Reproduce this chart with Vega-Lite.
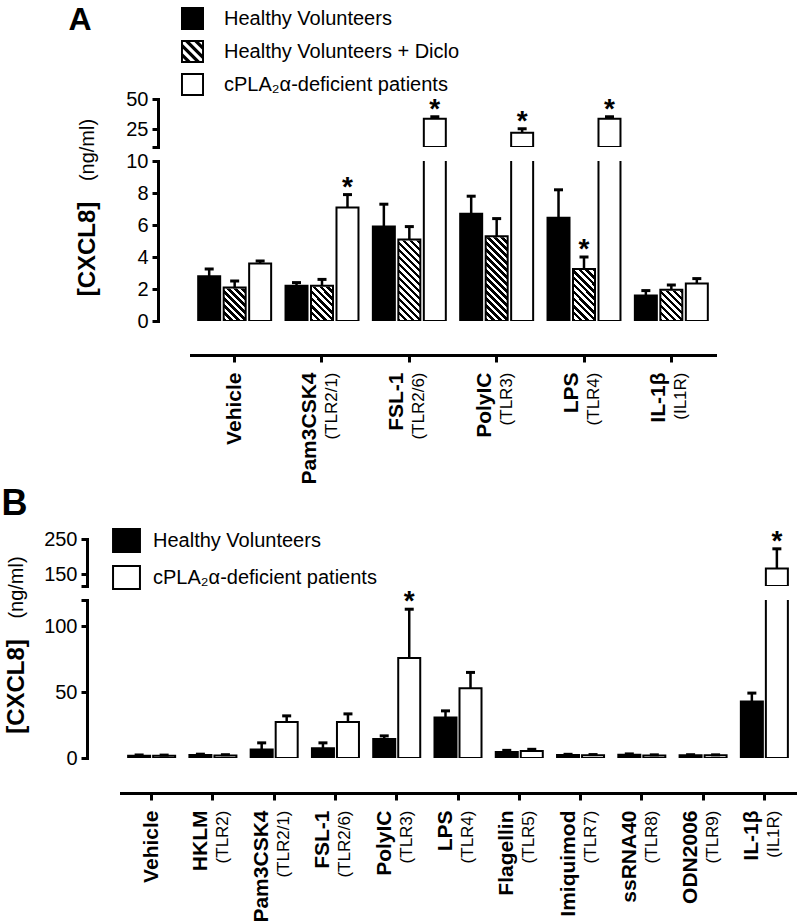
{
 "$schema": "https://vega.github.io/schema/vega-lite/v6.json",
 "autosize": {"type": "pad"},
 "padding": {"left": 1, "top": 3, "right": 2, "bottom": 2},
 "background": "white",
 "bounds": "flush",
 "spacing": 14,
 "config": {
  "font": "Liberation Sans",
  "view": {"stroke": null},
  "axis": {"domainColor": "black", "domainWidth": 3, "domainCap": "square", "tickColor": "black", "tickWidth": 3, "tickSize": 6, "labelColor": "black", "titleColor": "black", "labelFont": "Liberation Sans", "titleFont": "Liberation Sans", "grid": false, "labelFontSize": 20, "labelPadding": 4, "labelOverlap": false, "labelBound": false},
  "legend": {"labelFont": "Liberation Sans", "labelColor": "black"}
 },
 "datasets": {
  "A": [
   {"stim": "Vehicle", "group": "Healthy Volunteers", "value": 2.8, "err": 3.25, "sig": ""},
   {"stim": "Vehicle", "group": "Healthy Volunteers + Diclo", "value": 2.1, "err": 2.5, "sig": ""},
   {"stim": "Vehicle", "group": "cPLA₂α-deficient patients", "value": 3.6, "err": 3.75, "sig": ""},
   {"stim": "Pam3CSK4 (TLR2/1)", "group": "Healthy Volunteers", "value": 2.2, "err": 2.4, "sig": ""},
   {"stim": "Pam3CSK4 (TLR2/1)", "group": "Healthy Volunteers + Diclo", "value": 2.2, "err": 2.6, "sig": ""},
   {"stim": "Pam3CSK4 (TLR2/1)", "group": "cPLA₂α-deficient patients", "value": 7.1, "err": 7.9, "sig": "*"},
   {"stim": "FSL-1 (TLR2/6)", "group": "Healthy Volunteers", "value": 5.9, "err": 7.3, "sig": ""},
   {"stim": "FSL-1 (TLR2/6)", "group": "Healthy Volunteers + Diclo", "value": 5.1, "err": 5.9, "sig": ""},
   {"stim": "FSL-1 (TLR2/6)", "group": "cPLA₂α-deficient patients", "value": 33.6, "err": 35.2, "sig": "*"},
   {"stim": "PolyIC (TLR3)", "group": "Healthy Volunteers", "value": 6.7, "err": 7.8, "sig": ""},
   {"stim": "PolyIC (TLR3)", "group": "Healthy Volunteers + Diclo", "value": 5.3, "err": 6.4, "sig": ""},
   {"stim": "PolyIC (TLR3)", "group": "cPLA₂α-deficient patients", "value": 21.9, "err": 25.2, "sig": "*"},
   {"stim": "LPS (TLR4)", "group": "Healthy Volunteers", "value": 6.45, "err": 8.2, "sig": ""},
   {"stim": "LPS (TLR4)", "group": "Healthy Volunteers + Diclo", "value": 3.25, "err": 4.0, "sig": "*"},
   {"stim": "LPS (TLR4)", "group": "cPLA₂α-deficient patients", "value": 33.6, "err": 35.2, "sig": "*"},
   {"stim": "IL-1β (IL1R)", "group": "Healthy Volunteers", "value": 1.6, "err": 1.9, "sig": ""},
   {"stim": "IL-1β (IL1R)", "group": "Healthy Volunteers + Diclo", "value": 1.95, "err": 2.25, "sig": ""},
   {"stim": "IL-1β (IL1R)", "group": "cPLA₂α-deficient patients", "value": 2.35, "err": 2.65, "sig": ""}
  ],
  "B": [
   {"stim": "Vehicle", "group": "Healthy Volunteers", "value": 1.8, "err": 2.3, "sig": ""},
   {"stim": "Vehicle", "group": "cPLA₂α-deficient patients", "value": 1.8, "err": 2.2, "sig": ""},
   {"stim": "HKLM (TLR2)", "group": "Healthy Volunteers", "value": 2.2, "err": 2.9, "sig": ""},
   {"stim": "HKLM (TLR2)", "group": "cPLA₂α-deficient patients", "value": 1.9, "err": 2.5, "sig": ""},
   {"stim": "Pam3CSK4 (TLR2/1)", "group": "Healthy Volunteers", "value": 6.5, "err": 11.5, "sig": ""},
   {"stim": "Pam3CSK4 (TLR2/1)", "group": "cPLA₂α-deficient patients", "value": 27.4, "err": 32, "sig": ""},
   {"stim": "FSL-1 (TLR2/6)", "group": "Healthy Volunteers", "value": 7.5, "err": 11.5, "sig": ""},
   {"stim": "FSL-1 (TLR2/6)", "group": "cPLA₂α-deficient patients", "value": 27.4, "err": 33.5, "sig": ""},
   {"stim": "PolyIC (TLR3)", "group": "Healthy Volunteers", "value": 14.5, "err": 16.8, "sig": ""},
   {"stim": "PolyIC (TLR3)", "group": "cPLA₂α-deficient patients", "value": 75.9, "err": 113, "sig": "*"},
   {"stim": "LPS (TLR4)", "group": "Healthy Volunteers", "value": 30.7, "err": 35.8, "sig": ""},
   {"stim": "LPS (TLR4)", "group": "cPLA₂α-deficient patients", "value": 53, "err": 65, "sig": ""},
   {"stim": "Flagellin (TLR5)", "group": "Healthy Volunteers", "value": 4.5, "err": 5.8, "sig": ""},
   {"stim": "Flagellin (TLR5)", "group": "cPLA₂α-deficient patients", "value": 5.3, "err": 6.6, "sig": ""},
   {"stim": "Imiquimod (TLR7)", "group": "Healthy Volunteers", "value": 2.3, "err": 2.8, "sig": ""},
   {"stim": "Imiquimod (TLR7)", "group": "cPLA₂α-deficient patients", "value": 2.0, "err": 2.6, "sig": ""},
   {"stim": "ssRNA40 (TLR8)", "group": "Healthy Volunteers", "value": 2.5, "err": 3.1, "sig": ""},
   {"stim": "ssRNA40 (TLR8)", "group": "cPLA₂α-deficient patients", "value": 1.9, "err": 2.4, "sig": ""},
   {"stim": "ODN2006 (TLR9)", "group": "Healthy Volunteers", "value": 2.0, "err": 2.5, "sig": ""},
   {"stim": "ODN2006 (TLR9)", "group": "cPLA₂α-deficient patients", "value": 2.0, "err": 2.4, "sig": ""},
   {"stim": "IL-1β (IL1R)", "group": "Healthy Volunteers", "value": 42.9, "err": 49.3, "sig": ""},
   {"stim": "IL-1β (IL1R)", "group": "cPLA₂α-deficient patients", "value": 166, "err": 222, "sig": "*"}
  ]
 },
 "resolve": {"scale": {"x": "independent", "y": "independent", "xOffset": "independent", "fill": "independent", "shape": "independent"}, "legend": {"fill": "independent", "shape": "independent"}},
 "vconcat": [
  {
   "width": 594, "height": 48,
   "data": {"name": "A"},
   "resolve": {"axis": {"y": "independent"}},
   "layer": [
    {
     "transform": [{"filter": "datum.value > 10"}],
     "mark": {"type": "bar", "clip": true, "stroke": "black", "strokeWidth": 2},
     "encoding": {
      "x": {"field": "stim", "type": "nominal", "scale": {"domain": ["Vehicle", "Pam3CSK4 (TLR2/1)", "FSL-1 (TLR2/6)", "PolyIC (TLR3)", "LPS (TLR4)", "IL-1β (IL1R)"], "range": [70, 594], "paddingInner": 0, "paddingOuter": 0},
            "axis": {"orient": "top", "domain": false, "ticks": false, "labels": false, "title": "A", "titleX": -53, "titleY": -70, "titleAlign": "left", "titleBaseline": "alphabetic", "titleAngle": 0, "titleFontSize": 32, "titleFontWeight": "bold"}},
      "xOffset": {"field": "group", "type": "nominal", "scale": {"domain": ["Healthy Volunteers", "Healthy Volunteers + Diclo", "cPLA₂α-deficient patients"], "paddingInner": 0.137, "paddingOuter": 0.282}},
      "y": {"field": "value", "type": "quantitative", "stack": null, "scale": {"domain": [10, 50], "zero": false, "nice": false},
            "axis": {"orient": "left", "offset": -37, "values": [10, 50], "labelOverlap": false, "labelFlush": false, "labelExpr": "datum.value == 10 ? '' : datum.label", "title": "(ng/ml)", "titleX": -71, "titleY": 50.5, "titleAngle": 270, "titleAlign": "center", "titleBaseline": "middle", "titleFontSize": 20, "titleFontWeight": "normal"}},
      "fill": {"condition": {"test": "datum.group == 'Healthy Volunteers'", "value": "black"}, "value": "white"}
     }
    },
    {
     "transform": [{"filter": "datum.err > 10"}],
     "mark": {"type": "rule", "clip": true, "strokeWidth": 2.5, "color": "black"},
     "encoding": {
      "x": {"field": "stim", "type": "nominal", "scale": {"domain": ["Vehicle", "Pam3CSK4 (TLR2/1)", "FSL-1 (TLR2/6)", "PolyIC (TLR3)", "LPS (TLR4)", "IL-1β (IL1R)"], "range": [70, 594], "paddingInner": 0, "paddingOuter": 0}},
      "xOffset": {"field": "group", "type": "nominal", "scale": {"domain": ["Healthy Volunteers", "Healthy Volunteers + Diclo", "cPLA₂α-deficient patients"], "paddingInner": 0.137, "paddingOuter": 0.282}},
      "y": {"field": "value", "type": "quantitative", "scale": {"domain": [10, 50], "zero": false, "nice": false},
            "axis": {"orient": "left", "offset": -37, "values": [25], "domain": false, "title": null, "labelOverlap": false, "labelFlush": false}},
      "y2": {"field": "err"}
     }
    },
    {
     "transform": [{"filter": "datum.err > 10"}],
     "mark": {"type": "tick", "clip": true, "orient": "horizontal", "size": 9, "thickness": 3, "color": "black", "opacity": 1},
     "encoding": {
      "x": {"field": "stim", "type": "nominal", "scale": {"domain": ["Vehicle", "Pam3CSK4 (TLR2/1)", "FSL-1 (TLR2/6)", "PolyIC (TLR3)", "LPS (TLR4)", "IL-1β (IL1R)"], "range": [70, 594], "paddingInner": 0, "paddingOuter": 0}},
      "xOffset": {"field": "group", "type": "nominal", "scale": {"domain": ["Healthy Volunteers", "Healthy Volunteers + Diclo", "cPLA₂α-deficient patients"], "paddingInner": 0.137, "paddingOuter": 0.282}},
      "y": {"field": "err", "type": "quantitative", "scale": {"domain": [10, 50], "zero": false, "nice": false}, "axis": null}
     }
    },
    {
     "transform": [{"filter": "datum.sig == '*' && datum.err > 10"}],
     "mark": {"type": "text", "text": "*", "fontSize": 28, "fontWeight": "bold", "baseline": "alphabetic", "align": "center", "dy": 1, "color": "black", "opacity": 1},
     "encoding": {
      "x": {"field": "stim", "type": "nominal", "scale": {"domain": ["Vehicle", "Pam3CSK4 (TLR2/1)", "FSL-1 (TLR2/6)", "PolyIC (TLR3)", "LPS (TLR4)", "IL-1β (IL1R)"], "range": [70, 594], "paddingInner": 0, "paddingOuter": 0}},
      "xOffset": {"field": "group", "type": "nominal", "scale": {"domain": ["Healthy Volunteers", "Healthy Volunteers + Diclo", "cPLA₂α-deficient patients"], "paddingInner": 0.137, "paddingOuter": 0.282}},
      "y": {"field": "err", "type": "quantitative", "scale": {"domain": [10, 50], "zero": false, "nice": false}, "axis": null}
     }
    },
    {
     "transform": [{"filter": "datum.value < 3"}],
     "mark": {"type": "point", "filled": true, "clip": true, "color": "black", "size": 4, "opacity": 1},
     "encoding": {
      "x": {"field": "stim", "type": "nominal", "scale": {"domain": ["Vehicle", "Pam3CSK4 (TLR2/1)", "FSL-1 (TLR2/6)", "PolyIC (TLR3)", "LPS (TLR4)", "IL-1β (IL1R)"], "range": [70, 594], "paddingInner": 0, "paddingOuter": 0}},
      "xOffset": {"field": "group", "type": "nominal", "scale": {"domain": ["Healthy Volunteers", "Healthy Volunteers + Diclo", "cPLA₂α-deficient patients"], "paddingInner": 0.137, "paddingOuter": 0.282}},
      "y": {"field": "value", "type": "quantitative", "scale": {"domain": [10, 50], "zero": false, "nice": false}, "axis": null},
      "shape": {"field": "group", "type": "nominal",
                "scale": {"domain": ["Healthy Volunteers", "Healthy Volunteers + Diclo", "cPLA₂α-deficient patients"],
                          "range": ["M-1,-1H1V1H-1Z",
                                    "M-1,-1H1V1H-1Z M-0.83,-0.83V0.83H0.83V-0.83Z M0.17,-0.83L0.57,-0.83L0.83,-0.57L0.83,-0.17Z M-0.63,-0.83L-0.23,-0.83L0.83,0.23L0.83,0.63Z M-0.83,-0.63L0.63,0.83L0.23,0.83L-0.83,-0.23Z M-0.83,0.17L-0.17,0.83L-0.57,0.83L-0.83,0.57Z",
                                    "M-1,-1H1V1H-1Z M-0.83,-0.83V0.83H0.83V-0.83Z"]},
                "legend": {"orient": "none", "legendX": 60, "legendY": -92, "title": null, "symbolSize": 529, "symbolFillColor": "black", "symbolStrokeWidth": 0, "symbolOpacity": 1, "labelFontSize": 20, "labelLimit": 600, "labelOffset": 20, "rowPadding": 10, "padding": 0}}
     }
    }
   ]
  },
  {
   "width": 594, "height": 160,
   "data": {"name": "A"},
   "resolve": {"axis": {"x": "independent", "y": "independent"}},
   "layer": [
    {
     "transform": [{"filter": "datum.group == 'Healthy Volunteers + Diclo'"}],
     "mark": {"type": "bar", "clip": true, "strokeWidth": 0,
              "fill": {"gradient": "linear", "x1": 0, "y1": 7.2727, "x2": 1, "y2": 0, "stops": [{"offset":0.8465,"color":"#000"},{"offset":0.84945,"color":"#000"},{"offset":0.84945,"color":"#fff"},{"offset":0.8524,"color":"#fff"},{"offset":0.8524,"color":"#000"},{"offset":0.85535,"color":"#000"},{"offset":0.85535,"color":"#fff"},{"offset":0.8583,"color":"#fff"},{"offset":0.8583,"color":"#000"},{"offset":0.86126,"color":"#000"},{"offset":0.86126,"color":"#fff"},{"offset":0.86421,"color":"#fff"},{"offset":0.86421,"color":"#000"},{"offset":0.86716,"color":"#000"},{"offset":0.86716,"color":"#fff"},{"offset":0.87011,"color":"#fff"},{"offset":0.87011,"color":"#000"},{"offset":0.87306,"color":"#000"},{"offset":0.87306,"color":"#fff"},{"offset":0.87602,"color":"#fff"},{"offset":0.87602,"color":"#000"},{"offset":0.87897,"color":"#000"},{"offset":0.87897,"color":"#fff"},{"offset":0.88192,"color":"#fff"},{"offset":0.88192,"color":"#000"},{"offset":0.88487,"color":"#000"},{"offset":0.88487,"color":"#fff"},{"offset":0.88782,"color":"#fff"},{"offset":0.88782,"color":"#000"},{"offset":0.89078,"color":"#000"},{"offset":0.89078,"color":"#fff"},{"offset":0.89373,"color":"#fff"},{"offset":0.89373,"color":"#000"},{"offset":0.89668,"color":"#000"},{"offset":0.89668,"color":"#fff"},{"offset":0.89963,"color":"#fff"},{"offset":0.89963,"color":"#000"},{"offset":0.90258,"color":"#000"},{"offset":0.90258,"color":"#fff"},{"offset":0.90554,"color":"#fff"},{"offset":0.90554,"color":"#000"},{"offset":0.90849,"color":"#000"},{"offset":0.90849,"color":"#fff"},{"offset":0.91144,"color":"#fff"},{"offset":0.91144,"color":"#000"},{"offset":0.91439,"color":"#000"},{"offset":0.91439,"color":"#fff"},{"offset":0.91734,"color":"#fff"},{"offset":0.91734,"color":"#000"},{"offset":0.9203,"color":"#000"},{"offset":0.9203,"color":"#fff"},{"offset":0.92325,"color":"#fff"},{"offset":0.92325,"color":"#000"},{"offset":0.9262,"color":"#000"},{"offset":0.9262,"color":"#fff"},{"offset":0.92915,"color":"#fff"},{"offset":0.92915,"color":"#000"},{"offset":0.9321,"color":"#000"},{"offset":0.9321,"color":"#fff"},{"offset":0.93506,"color":"#fff"},{"offset":0.93506,"color":"#000"},{"offset":0.93801,"color":"#000"},{"offset":0.93801,"color":"#fff"},{"offset":0.94096,"color":"#fff"},{"offset":0.94096,"color":"#000"},{"offset":0.94391,"color":"#000"},{"offset":0.94391,"color":"#fff"},{"offset":0.94686,"color":"#fff"},{"offset":0.94686,"color":"#000"},{"offset":0.94982,"color":"#000"},{"offset":0.94982,"color":"#fff"},{"offset":0.95277,"color":"#fff"},{"offset":0.95277,"color":"#000"},{"offset":0.95572,"color":"#000"},{"offset":0.95572,"color":"#fff"},{"offset":0.95867,"color":"#fff"},{"offset":0.95867,"color":"#000"},{"offset":0.96162,"color":"#000"},{"offset":0.96162,"color":"#fff"},{"offset":0.96458,"color":"#fff"},{"offset":0.96458,"color":"#000"},{"offset":0.96753,"color":"#000"},{"offset":0.96753,"color":"#fff"},{"offset":0.97048,"color":"#fff"},{"offset":0.97048,"color":"#000"},{"offset":0.97343,"color":"#000"},{"offset":0.97343,"color":"#fff"},{"offset":0.97638,"color":"#fff"},{"offset":0.97638,"color":"#000"},{"offset":0.97934,"color":"#000"},{"offset":0.97934,"color":"#fff"},{"offset":0.98229,"color":"#fff"},{"offset":0.98229,"color":"#000"},{"offset":0.98524,"color":"#000"},{"offset":0.98524,"color":"#fff"},{"offset":0.98819,"color":"#fff"},{"offset":0.98819,"color":"#000"},{"offset":0.99114,"color":"#000"},{"offset":0.99114,"color":"#fff"},{"offset":0.9941,"color":"#fff"},{"offset":0.9941,"color":"#000"},{"offset":0.99705,"color":"#000"},{"offset":0.99705,"color":"#fff"},{"offset":1,"color":"#fff"}]}},
     "encoding": {
      "x": {"field": "stim", "type": "nominal", "scale": {"domain": ["Vehicle", "Pam3CSK4 (TLR2/1)", "FSL-1 (TLR2/6)", "PolyIC (TLR3)", "LPS (TLR4)", "IL-1β (IL1R)"], "range": [70, 594], "paddingInner": 0, "paddingOuter": 0}, "axis": null},
      "xOffset": {"field": "group", "type": "nominal", "scale": {"domain": ["Healthy Volunteers", "Healthy Volunteers + Diclo", "cPLA₂α-deficient patients"], "paddingInner": 0.137, "paddingOuter": 0.282}},
      "y": {"datum": 10, "type": "quantitative", "scale": {"domain": [0, 10], "nice": false}, "axis": null},
      "y2": {"datum": 0}
     }
    },
    {
     "transform": [{"filter": "datum.group == 'Healthy Volunteers + Diclo'"}],
     "mark": {"type": "bar", "clip": true, "fill": "white", "stroke": "white", "strokeWidth": 2},
     "encoding": {
      "x": {"field": "stim", "type": "nominal", "scale": {"domain": ["Vehicle", "Pam3CSK4 (TLR2/1)", "FSL-1 (TLR2/6)", "PolyIC (TLR3)", "LPS (TLR4)", "IL-1β (IL1R)"], "range": [70, 594], "paddingInner": 0, "paddingOuter": 0}, "axis": null},
      "xOffset": {"field": "group", "type": "nominal", "scale": {"domain": ["Healthy Volunteers", "Healthy Volunteers + Diclo", "cPLA₂α-deficient patients"], "paddingInner": 0.137, "paddingOuter": 0.282}},
      "y": {"field": "value", "type": "quantitative", "stack": null, "scale": {"domain": [0, 10], "nice": false}, "axis": null},
      "y2": {"datum": 10}
     }
    },
    {
     "mark": {"type": "bar", "clip": true, "stroke": "black", "strokeWidth": 2},
     "encoding": {
      "x": {"field": "stim", "type": "nominal", "scale": {"domain": ["Vehicle", "Pam3CSK4 (TLR2/1)", "FSL-1 (TLR2/6)", "PolyIC (TLR3)", "LPS (TLR4)", "IL-1β (IL1R)"], "range": [70, 594], "paddingInner": 0, "paddingOuter": 0},
            "axis": {"orient": "bottom", "offset": 34, "title": null, "labelAngle": 270, "labelFontSize": 21, "labelFontWeight": "bold", "labelPadding": 10, "tickSize": 7, "tickWidth": 3, "labelExpr": "split(datum.value, ' (')[0]", "labelOffset": {"condition": {"test": "indexof(datum.value, '(') < 0", "value": 0}, "value": -12}}},
      "xOffset": {"field": "group", "type": "nominal", "scale": {"domain": ["Healthy Volunteers", "Healthy Volunteers + Diclo", "cPLA₂α-deficient patients"], "paddingInner": 0.137, "paddingOuter": 0.282}},
      "y": {"field": "value", "type": "quantitative", "stack": null, "scale": {"domain": [0, 10], "nice": false},
            "axis": {"orient": "left", "offset": -37, "values": [0, 4, 8], "labelOverlap": false, "labelFlush": false, "title": "[CXCL8]", "titleX": -71, "titleY": 87.5, "titleAngle": 270, "titleAlign": "center", "titleBaseline": "middle", "titleFontSize": 24, "titleFontWeight": "bold"}},
      "fill": {"condition": [{"test": "datum.group == 'Healthy Volunteers'", "value": "black"}, {"test": "datum.group == 'Healthy Volunteers + Diclo'", "value": "transparent"}], "value": "white"}
     }
    },
    {
     "mark": {"type": "rule", "clip": true, "strokeWidth": 2.5, "color": "black"},
     "encoding": {
      "x": {"field": "stim", "type": "nominal", "scale": {"domain": ["Vehicle", "Pam3CSK4 (TLR2/1)", "FSL-1 (TLR2/6)", "PolyIC (TLR3)", "LPS (TLR4)", "IL-1β (IL1R)"], "range": [70, 594], "paddingInner": 0, "paddingOuter": 0},
            "axis": {"orient": "bottom", "offset": 34, "title": null, "domain": false, "tickSize": 7, "tickOpacity": 0, "labelAngle": 270, "labelFontSize": 17, "labelFontWeight": "normal", "labelPadding": 10, "labelOffset": 10, "labelExpr": "indexof(datum.value, '(') < 0 ? '' : '(' + split(datum.value, ' (')[1]"}},
      "xOffset": {"field": "group", "type": "nominal", "scale": {"domain": ["Healthy Volunteers", "Healthy Volunteers + Diclo", "cPLA₂α-deficient patients"], "paddingInner": 0.137, "paddingOuter": 0.282}},
      "y": {"field": "value", "type": "quantitative", "scale": {"domain": [0, 10], "nice": false},
            "axis": {"orient": "left", "offset": -37, "values": [2, 6, 10], "domain": false, "title": null, "labelOverlap": false, "labelFlush": false}},
      "y2": {"field": "err"}
     }
    },
    {
     "mark": {"type": "tick", "clip": true, "orient": "horizontal", "size": 9, "thickness": 3, "color": "black", "opacity": 1},
     "encoding": {
      "x": {"field": "stim", "type": "nominal", "scale": {"domain": ["Vehicle", "Pam3CSK4 (TLR2/1)", "FSL-1 (TLR2/6)", "PolyIC (TLR3)", "LPS (TLR4)", "IL-1β (IL1R)"], "range": [70, 594], "paddingInner": 0, "paddingOuter": 0}, "axis": null},
      "xOffset": {"field": "group", "type": "nominal", "scale": {"domain": ["Healthy Volunteers", "Healthy Volunteers + Diclo", "cPLA₂α-deficient patients"], "paddingInner": 0.137, "paddingOuter": 0.282}},
      "y": {"field": "err", "type": "quantitative", "scale": {"domain": [0, 10], "nice": false}, "axis": null}
     }
    },
    {
     "transform": [{"filter": "datum.sig == '*' && datum.err <= 10"}],
     "mark": {"type": "text", "text": "*", "fontSize": 28, "fontWeight": "bold", "baseline": "alphabetic", "align": "center", "dy": 1, "color": "black", "opacity": 1},
     "encoding": {
      "x": {"field": "stim", "type": "nominal", "scale": {"domain": ["Vehicle", "Pam3CSK4 (TLR2/1)", "FSL-1 (TLR2/6)", "PolyIC (TLR3)", "LPS (TLR4)", "IL-1β (IL1R)"], "range": [70, 594], "paddingInner": 0, "paddingOuter": 0}, "axis": null},
      "xOffset": {"field": "group", "type": "nominal", "scale": {"domain": ["Healthy Volunteers", "Healthy Volunteers + Diclo", "cPLA₂α-deficient patients"], "paddingInner": 0.137, "paddingOuter": 0.282}},
      "y": {"field": "err", "type": "quantitative", "scale": {"domain": [0, 10], "nice": false}, "axis": null}
     }
    }
   ]
  },
  {
   "width": 10, "height": 190,
   "data": {"values": [{"k": 1}]},
   "mark": {"type": "text", "text": ""},
   "encoding": {}
  },
  {
   "width": 674, "height": 47,
   "data": {"name": "B"},
   "resolve": {"axis": {"y": "independent"}},
   "layer": [
    {
     "transform": [{"filter": "datum.value > 116"}],
     "mark": {"type": "bar", "clip": true, "stroke": "black", "strokeWidth": 2},
     "encoding": {
      "x": {"field": "stim", "type": "nominal", "scale": {"domain": ["Vehicle", "HKLM (TLR2)", "Pam3CSK4 (TLR2/1)", "FSL-1 (TLR2/6)", "PolyIC (TLR3)", "LPS (TLR4)", "Flagellin (TLR5)", "Imiquimod (TLR7)", "ssRNA40 (TLR8)", "ODN2006 (TLR9)", "IL-1β (IL1R)"], "paddingInner": 0, "paddingOuter": 0},
            "axis": {"orient": "top", "domain": false, "ticks": false, "labels": false, "title": "B", "titleX": -120, "titleY": -25, "titleAlign": "left", "titleBaseline": "alphabetic", "titleAngle": 0, "titleFontSize": 36, "titleFontWeight": "bold"}},
      "xOffset": {"field": "group", "type": "nominal", "scale": {"domain": ["Healthy Volunteers", "cPLA₂α-deficient patients"], "paddingInner": 0.12, "paddingOuter": 0.285}},
      "y": {"field": "value", "type": "quantitative", "stack": null, "scale": {"domain": [116, 250], "zero": false, "nice": false},
            "axis": {"orient": "left", "offset": 34, "values": [116, 250], "labelOverlap": false, "labelFlush": false, "labelExpr": "datum.value == 116 ? '' : datum.label", "title": "(ng/ml)", "titleX": -71, "titleY": 48, "titleAngle": 270, "titleAlign": "center", "titleBaseline": "middle", "titleFontSize": 20, "titleFontWeight": "normal"}},
      "fill": {"field": "group", "type": "nominal", "scale": {"domain": ["Healthy Volunteers", "cPLA₂α-deficient patients"], "range": ["black", "white"]},
               "legend": {"orient": "none", "legendX": -7, "legendY": -11, "title": null, "symbolType": "M-1.17,-1H1.17V1H-1.17Z", "symbolSize": 529, "symbolStrokeColor": "black", "symbolStrokeWidth": 2, "symbolOpacity": 1, "labelFontSize": 20, "labelLimit": 600, "labelOffset": 14, "rowPadding": 6, "padding": 0}}
     }
    },
    {
     "transform": [{"filter": "datum.err > 116"}],
     "mark": {"type": "rule", "clip": true, "strokeWidth": 2.5, "color": "black"},
     "encoding": {
      "x": {"field": "stim", "type": "nominal", "scale": {"domain": ["Vehicle", "HKLM (TLR2)", "Pam3CSK4 (TLR2/1)", "FSL-1 (TLR2/6)", "PolyIC (TLR3)", "LPS (TLR4)", "Flagellin (TLR5)", "Imiquimod (TLR7)", "ssRNA40 (TLR8)", "ODN2006 (TLR9)", "IL-1β (IL1R)"], "paddingInner": 0, "paddingOuter": 0}},
      "xOffset": {"field": "group", "type": "nominal", "scale": {"domain": ["Healthy Volunteers", "cPLA₂α-deficient patients"], "paddingInner": 0.12, "paddingOuter": 0.285}},
      "y": {"field": "value", "type": "quantitative", "scale": {"domain": [116, 250], "zero": false, "nice": false},
            "axis": {"orient": "left", "offset": 34, "values": [150], "domain": false, "title": null, "labelOverlap": false, "labelFlush": false}},
      "y2": {"field": "err"}
     }
    },
    {
     "transform": [{"filter": "datum.err > 116"}],
     "mark": {"type": "tick", "clip": true, "orient": "horizontal", "size": 9, "thickness": 3, "color": "black", "opacity": 1},
     "encoding": {
      "x": {"field": "stim", "type": "nominal", "scale": {"domain": ["Vehicle", "HKLM (TLR2)", "Pam3CSK4 (TLR2/1)", "FSL-1 (TLR2/6)", "PolyIC (TLR3)", "LPS (TLR4)", "Flagellin (TLR5)", "Imiquimod (TLR7)", "ssRNA40 (TLR8)", "ODN2006 (TLR9)", "IL-1β (IL1R)"], "paddingInner": 0, "paddingOuter": 0}},
      "xOffset": {"field": "group", "type": "nominal", "scale": {"domain": ["Healthy Volunteers", "cPLA₂α-deficient patients"], "paddingInner": 0.12, "paddingOuter": 0.285}},
      "y": {"field": "err", "type": "quantitative", "scale": {"domain": [116, 250], "zero": false, "nice": false}, "axis": null}
     }
    },
    {
     "transform": [{"filter": "datum.sig == '*' && datum.err > 120"}],
     "mark": {"type": "text", "text": "*", "fontSize": 28, "fontWeight": "bold", "baseline": "alphabetic", "align": "center", "dy": 1, "color": "black", "opacity": 1},
     "encoding": {
      "x": {"field": "stim", "type": "nominal", "scale": {"domain": ["Vehicle", "HKLM (TLR2)", "Pam3CSK4 (TLR2/1)", "FSL-1 (TLR2/6)", "PolyIC (TLR3)", "LPS (TLR4)", "Flagellin (TLR5)", "Imiquimod (TLR7)", "ssRNA40 (TLR8)", "ODN2006 (TLR9)", "IL-1β (IL1R)"], "paddingInner": 0, "paddingOuter": 0}},
      "xOffset": {"field": "group", "type": "nominal", "scale": {"domain": ["Healthy Volunteers", "cPLA₂α-deficient patients"], "paddingInner": 0.12, "paddingOuter": 0.285}},
      "y": {"field": "err", "type": "quantitative", "scale": {"domain": [116, 250], "zero": false, "nice": false}, "axis": null}
     }
    }
   ]
  },
  {
   "width": 674, "height": 158,
   "data": {"name": "B"},
   "resolve": {"axis": {"x": "independent"}},
   "layer": [
    {
     "mark": {"type": "bar", "clip": true, "stroke": "black", "strokeWidth": 2},
     "encoding": {
      "x": {"field": "stim", "type": "nominal", "scale": {"domain": ["Vehicle", "HKLM (TLR2)", "Pam3CSK4 (TLR2/1)", "FSL-1 (TLR2/6)", "PolyIC (TLR3)", "LPS (TLR4)", "Flagellin (TLR5)", "Imiquimod (TLR7)", "ssRNA40 (TLR8)", "ODN2006 (TLR9)", "IL-1β (IL1R)"], "paddingInner": 0, "paddingOuter": 0},
            "axis": {"orient": "bottom", "offset": 35, "title": null, "labelAngle": 270, "labelFontSize": 21, "labelFontWeight": "bold", "labelPadding": 10, "tickSize": 7, "tickWidth": 3, "labelExpr": "split(datum.value, ' (')[0]", "labelOffset": {"condition": {"test": "indexof(datum.value, '(') < 0", "value": 0}, "value": -12}}},
      "xOffset": {"field": "group", "type": "nominal", "scale": {"domain": ["Healthy Volunteers", "cPLA₂α-deficient patients"], "paddingInner": 0.12, "paddingOuter": 0.285}},
      "y": {"field": "value", "type": "quantitative", "stack": null, "scale": {"domain": [0, 120], "nice": false},
            "axis": {"offset": 34, "values": [0, 50, 100, 120], "labelOverlap": false, "labelFlush": false, "labelExpr": "datum.value == 120 ? '' : datum.label", "title": "[CXCL8]", "titleX": -71, "titleY": 86, "titleAngle": 270, "titleAlign": "center", "titleBaseline": "middle", "titleFontSize": 24, "titleFontWeight": "bold"}},
      "fill": {"condition": {"test": "datum.group == 'Healthy Volunteers'", "value": "black"}, "value": "white"}
     }
    },
    {
     "mark": {"type": "rule", "clip": true, "strokeWidth": 2.5, "color": "black"},
     "encoding": {
      "x": {"field": "stim", "type": "nominal", "scale": {"domain": ["Vehicle", "HKLM (TLR2)", "Pam3CSK4 (TLR2/1)", "FSL-1 (TLR2/6)", "PolyIC (TLR3)", "LPS (TLR4)", "Flagellin (TLR5)", "Imiquimod (TLR7)", "ssRNA40 (TLR8)", "ODN2006 (TLR9)", "IL-1β (IL1R)"], "paddingInner": 0, "paddingOuter": 0},
            "axis": {"orient": "bottom", "offset": 35, "title": null, "domain": false, "tickSize": 7, "tickOpacity": 0, "labelAngle": 270, "labelFontSize": 17, "labelFontWeight": "normal", "labelPadding": 10, "labelOffset": 10, "labelExpr": "indexof(datum.value, '(') < 0 ? '' : '(' + split(datum.value, ' (')[1]"}},
      "xOffset": {"field": "group", "type": "nominal", "scale": {"domain": ["Healthy Volunteers", "cPLA₂α-deficient patients"], "paddingInner": 0.12, "paddingOuter": 0.285}},
      "y": {"field": "value", "type": "quantitative", "scale": {"domain": [0, 120], "nice": false}},
      "y2": {"field": "err"}
     }
    },
    {
     "mark": {"type": "tick", "clip": true, "orient": "horizontal", "size": 9, "thickness": 3, "color": "black", "opacity": 1},
     "encoding": {
      "x": {"field": "stim", "type": "nominal", "scale": {"domain": ["Vehicle", "HKLM (TLR2)", "Pam3CSK4 (TLR2/1)", "FSL-1 (TLR2/6)", "PolyIC (TLR3)", "LPS (TLR4)", "Flagellin (TLR5)", "Imiquimod (TLR7)", "ssRNA40 (TLR8)", "ODN2006 (TLR9)", "IL-1β (IL1R)"], "paddingInner": 0, "paddingOuter": 0}, "axis": null},
      "xOffset": {"field": "group", "type": "nominal", "scale": {"domain": ["Healthy Volunteers", "cPLA₂α-deficient patients"], "paddingInner": 0.12, "paddingOuter": 0.285}},
      "y": {"field": "err", "type": "quantitative", "scale": {"domain": [0, 120], "nice": false}}
     }
    },
    {
     "transform": [{"filter": "datum.sig == '*' && datum.err <= 120"}],
     "mark": {"type": "text", "text": "*", "fontSize": 28, "fontWeight": "bold", "baseline": "alphabetic", "align": "center", "dy": 1, "color": "black", "opacity": 1},
     "encoding": {
      "x": {"field": "stim", "type": "nominal", "scale": {"domain": ["Vehicle", "HKLM (TLR2)", "Pam3CSK4 (TLR2/1)", "FSL-1 (TLR2/6)", "PolyIC (TLR3)", "LPS (TLR4)", "Flagellin (TLR5)", "Imiquimod (TLR7)", "ssRNA40 (TLR8)", "ODN2006 (TLR9)", "IL-1β (IL1R)"], "paddingInner": 0, "paddingOuter": 0}, "axis": null},
      "xOffset": {"field": "group", "type": "nominal", "scale": {"domain": ["Healthy Volunteers", "cPLA₂α-deficient patients"], "paddingInner": 0.12, "paddingOuter": 0.285}},
      "y": {"field": "err", "type": "quantitative", "scale": {"domain": [0, 120], "nice": false}}
     }
    }
   ]
  }
 ]
}
